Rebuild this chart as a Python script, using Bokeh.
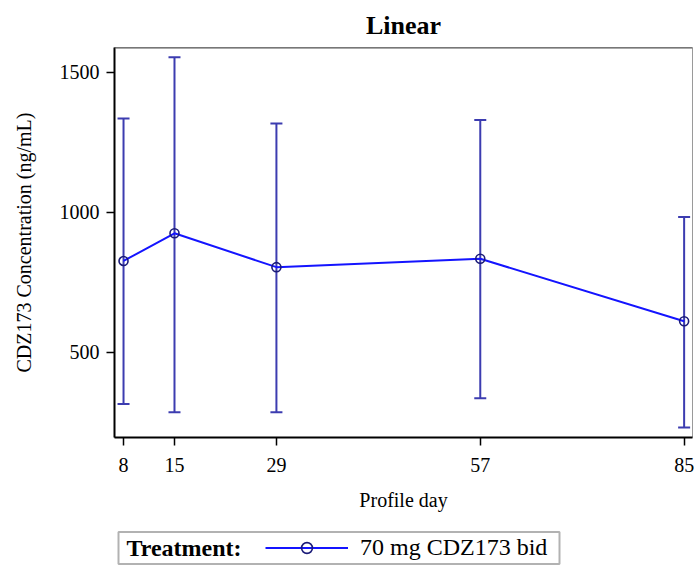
from bokeh.plotting import figure
from bokeh.layouts import column
from bokeh.models import (ColumnDataSource, Range1d, FixedTicker, Whisker, TeeHead,
                          Legend, LegendItem, Span, BoxAnnotation, Label)
from bokeh.embed import file_html
from bokeh.resources import INLINE

# ---- data ----
days = [8, 15, 29, 57, 85]
mean_conc = [826, 925, 804, 834, 611]
upper_conc = [1335, 1553, 1317, 1329, 983]
lower_conc = [316, 286, 286, 336, 232]
x_ticks = [8, 15, 29, 57, 85]
y_ticks = [500, 1000, 1500]
series_label = "70 mg CDZ173 bid"
legend_title = "Treatment:"

X_START, X_END = 6.76, 86.15
Y_START, Y_END = 196, 1588

FONT = "Liberation Serif"
LINE_BLUE = "#1414ff"
BAR_BLUE = "#3c3cb0"
MARK_NAVY = "#1a1a78"

src = ColumnDataSource(dict(day=days, mean=mean_conc, upper=upper_conc, lower=lower_conc))

# ---------------- main chart ----------------
p = figure(width=694, height=530,
           min_border_left=114, min_border_right=2, min_border_top=47, min_border_bottom=93,
           x_range=Range1d(X_START, X_END), y_range=Range1d(Y_START, Y_END),
           output_backend="svg", toolbar_location=None, title="Linear")

p.background_fill_color = "white"
p.border_fill_color = "white"
p.outline_line_color = "#9a9a9a"
p.outline_line_width = 1
p.xgrid.visible = False
p.ygrid.visible = False

p.title.text_font = FONT
p.title.text_font_size = "26px"
p.title.text_font_style = "bold"
p.title.align = "center"
p.title.standoff = 15
p.title.text_color = "black"

# darker top border
p.add_layout(Span(location=Y_END, dimension="width", line_color="#555555", line_width=2))

for ax in (p.xaxis[0], p.yaxis[0]):
    ax.axis_line_color = "black"
    ax.axis_line_width = 2
    ax.major_tick_line_color = "black"
    ax.major_tick_line_width = 1.5
    ax.major_tick_out = 8
    ax.major_tick_in = 0
    ax.minor_tick_line_color = None
    ax.major_label_text_font = FONT
    ax.major_label_text_font_size = "20px"
    ax.major_label_text_color = "black"
    ax.axis_label_text_font = FONT
    ax.axis_label_text_font_size = "20px"
    ax.axis_label_text_font_style = "normal"
    ax.axis_label_text_color = "black"

p.xaxis.ticker = FixedTicker(ticks=x_ticks)
p.yaxis.ticker = FixedTicker(ticks=y_ticks)
p.xaxis.axis_label = "Profile day"
p.yaxis.axis_label = "CDZ173 Concentration (ng/mL)"
p.xaxis.major_label_standoff = 12
p.xaxis.axis_label_standoff = 14
p.yaxis.major_label_standoff = 7
p.yaxis.axis_label_standoff = 22
p.yaxis.major_label_orientation = "horizontal"

whisk = Whisker(source=src, base="day", upper="upper", lower="lower",
                line_color=BAR_BLUE, line_width=2,
                upper_head=TeeHead(size=12, line_color=BAR_BLUE, line_width=2),
                lower_head=TeeHead(size=12, line_color=BAR_BLUE, line_width=2))
p.add_layout(whisk)

ln = p.line("day", "mean", source=src, line_color=LINE_BLUE, line_width=2)
sc = p.scatter("day", "mean", source=src, marker="circle", size=9,
               fill_color=None, line_color=MARK_NAVY, line_width=1.6)

# ---------------- legend strip (its frame is aligned with the chart's frame) ----------------
LEG_H = 35
q = figure(width=694, height=LEG_H, min_border=0, title=None,
           x_axis_type=None, y_axis_type=None,
           x_range=Range1d(0, 1), y_range=Range1d(0, 1),
           output_backend="svg", toolbar_location=None)
q.outline_line_color = None
q.background_fill_color = "white"
q.border_fill_color = "white"

# series renderers for the legend glyph (their data lie outside this strip's ranges)
ln2 = q.line("day", "mean", source=src, line_color=LINE_BLUE, line_width=2)
sc2 = q.scatter("day", "mean", source=src, marker="circle", size=9,
                fill_color=None, line_color=MARK_NAVY, line_width=1.6)

q.add_layout(BoxAnnotation(left=4, right=445, bottom=1.5, top=LEG_H - 1.5,
                           left_units="screen", right_units="screen",
                           bottom_units="screen", top_units="screen",
                           fill_color=None, fill_alpha=0,
                           line_color="black", line_width=2))
q.add_layout(Label(x=12, y=LEG_H / 2, x_units="screen", y_units="screen",
                   text=legend_title, text_font=FONT, text_font_size="24px",
                   text_font_style="bold", text_color="black",
                   text_baseline="middle", text_align="left"))

legend = Legend(items=[LegendItem(label=series_label, renderers=[ln2, sc2])],
                location=(151, 4), orientation="horizontal")
legend.label_text_font = FONT
legend.label_text_font_size = "24px"
legend.label_text_color = "black"
legend.label_standoff = 12
legend.glyph_width = 83
legend.glyph_height = 27
legend.label_height = 27
legend.padding = 0
legend.margin = 0
legend.spacing = 0
legend.border_line_color = None
legend.background_fill_alpha = 0
q.add_layout(legend, "center")

open("out.html", "w").write(file_html(column(p, q, spacing=0), INLINE))
